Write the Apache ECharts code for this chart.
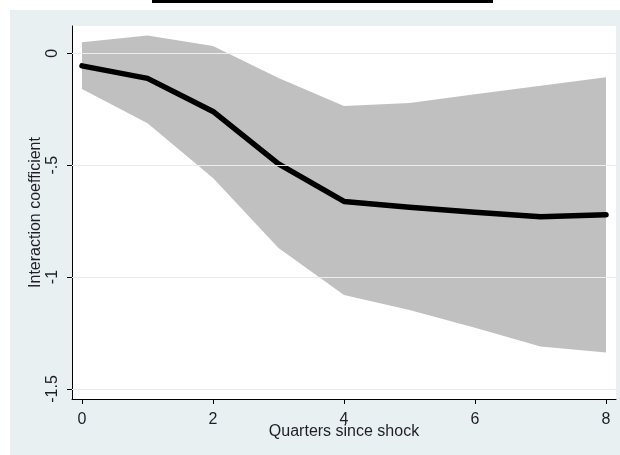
<!DOCTYPE html>
<html>
<head>
<meta charset="utf-8">
<script src="https://cdn.jsdelivr.net/npm/echarts@6/dist/echarts.min.js"></script>
<style>
  html, body { margin: 0; padding: 0; background: #ffffff; }
  #wrap { position: relative; width: 620px; height: 455px; overflow: hidden; background: #ffffff; }
  #bg { position: absolute; left: 10px; top: 10px; width: 610px; height: 445px; background: #e8f0f2; }
  #titleline { position: absolute; left: 152px; top: 0px; width: 341px; height: 3px; background: #000; }
  #chart { position: absolute; left: 0; top: 0; width: 620px; height: 455px; }
</style>
</head>
<body>
<div id="wrap">
  <div id="bg"></div>
  <div id="titleline"></div>
  <div id="chart"></div>
</div>
<script>
const quarters = [0, 1, 2, 3, 4, 5, 6, 7, 8];
const coef  = [-0.056, -0.112, -0.26, -0.494, -0.662, -0.688, -0.71, -0.73, -0.722];
const upper = [0.049, 0.079, 0.033, -0.11, -0.236, -0.222, -0.183, -0.145, -0.107];
const lower = [-0.16, -0.313, -0.557, -0.87, -1.08, -1.147, -1.227, -1.31, -1.337];
const xTicks = [0, 2, 4, 6, 8];
const yTicks = [0, -0.5, -1, -1.5];
const yTickLabels = ['0', '-.5', '-1', '-1.5'];
const xTitle = 'Quarters since shock';
const yTitle = 'Interaction coefficient';

const font = '"Liberation Sans", Arial, sans-serif';
const textColor = '#1e1e28';
const chart = echarts.init(document.getElementById('chart'), null, { renderer: 'canvas' });

const bandData = quarters.map((q, i) => [q, lower[i], upper[i]]);
const coefData = quarters.map((q, i) => [q, coef[i]]);

chart.setOption({
  backgroundColor: 'transparent',
  animation: false,
  grid: {
    left: 72, right: 4, top: 26, bottom: 56,
    show: true, backgroundColor: '#ffffff', borderWidth: 0
  },
  xAxis: {
    type: 'value',
    min: -0.153, max: 8.153,
    name: xTitle,
    nameLocation: 'middle',
    nameGap: 25,
    nameMoveOverlap: false,
    nameTextStyle: { fontFamily: font, fontSize: 16, color: textColor },
    axisLine: { show: true, onZero: false, lineStyle: { color: '#000', width: 1 } },
    axisTick: { show: true, length: 5, customValues: xTicks, lineStyle: { color: '#000' } },
    axisLabel: {
      customValues: xTicks, margin: 13,
      fontFamily: font, fontSize: 16, color: textColor,
      formatter: v => String(v)
    },
    splitLine: { show: false }
  },
  yAxis: {
    type: 'value',
    min: -1.545, max: 0.122,
    name: yTitle,
    nameLocation: 'middle',
    nameRotate: 90,
    nameGap: 28,
    nameMoveOverlap: false,
    nameTextStyle: { fontFamily: font, fontSize: 16, color: textColor },
    axisLine: { show: true, onZero: false, lineStyle: { color: '#000', width: 1 } },
    axisTick: { show: true, length: 5, customValues: yTicks, lineStyle: { color: '#000' } },
    axisLabel: {
      customValues: yTicks, margin: 11, rotate: 90,
      fontFamily: font, fontSize: 16, color: textColor,
      formatter: v => {
        const i = yTicks.findIndex(t => Math.abs(t - v) < 1e-9);
        return i >= 0 ? yTickLabels[i] : '';
      }
    },
    splitLine: { show: false }
  },
  series: [
    {
      name: 'grid', type: 'line', data: [], z: 1,
      markLine: {
        silent: true, symbol: 'none', label: { show: false },
        lineStyle: { color: '#e6eef0', width: 1, type: 'solid' },
        data: yTicks.map(t => ({ yAxis: t }))
      }
    },
    {
      name: 'band', type: 'custom', data: bandData, z: 2,
      encode: { x: 0, y: [1, 2] },
      renderItem: function (params, api) {
        if (params.dataIndex !== 0) return null;
        const top = bandData.map(d => api.coord([d[0], d[2]]));
        const bot = bandData.map(d => api.coord([d[0], d[1]])).reverse();
        return {
          type: 'polygon',
          shape: { points: top.concat(bot) },
          style: { fill: '#c0c0c0', stroke: null }
        };
      }
    },
    {
      name: 'coef', type: 'line', data: coefData,
      symbol: 'none',
      lineStyle: { color: '#000', width: 5.5, cap: 'round', join: 'round' }, z: 3
    }
  ]
});
</script>
</body>
</html>
